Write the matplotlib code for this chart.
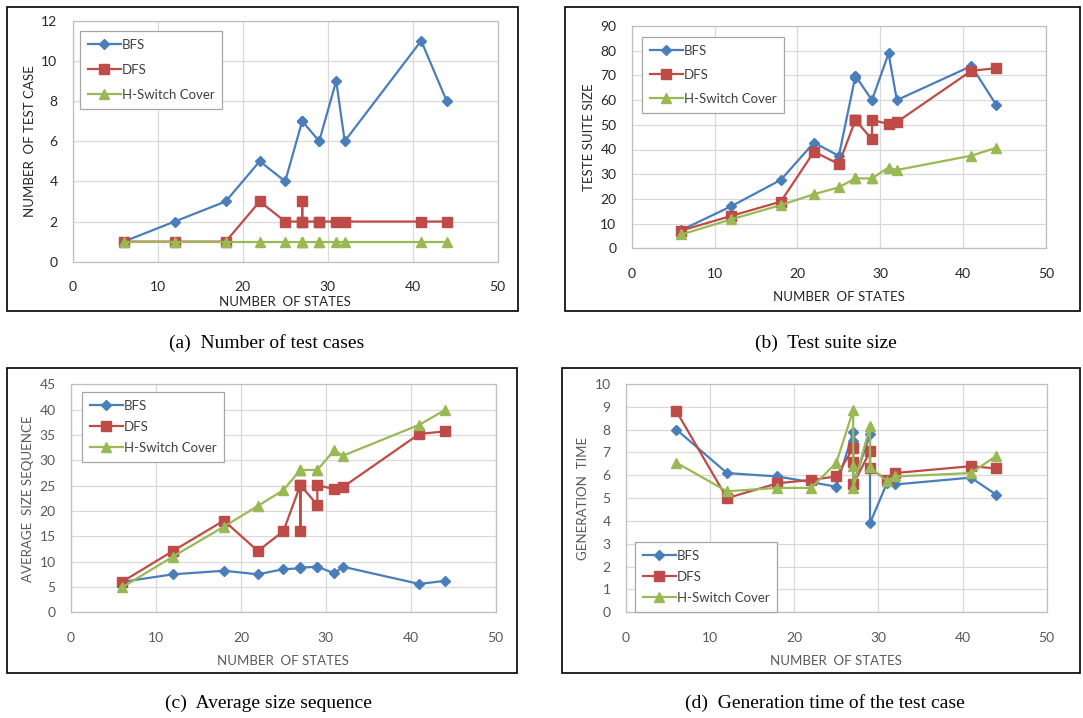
import numpy as np
import matplotlib
matplotlib.use("Agg")
import matplotlib.pyplot as plt
from matplotlib.patches import Rectangle

plt.rcParams['font.family'] = ['Lato', 'DejaVu Sans']

# number of states (same machines used in every panel)
states = [6, 12, 18, 22, 25, 27, 27, 27, 29, 29, 31, 32, 41, 44]

# (a) number of test cases
bfs_cases = [1, 2, 3, 5, 4, 7, 7, 7, 6, 6, 9, 6, 11, 8]
dfs_cases = [1, 1, 1, 3, 2, 2, 3, 2, 2, 2, 2, 2, 2, 2]
hsc_cases = [1, 1, 1, 1, 1, 1, 1, 1, 1, 1, 1, 1, 1, 1]

# (b) test suite size
bfs_size = [7.4, 17, 27.7, 42.8, 37.4, 69.8, 68.8, 69.8, 60, 60, 78.9, 60, 73.8, 58]
dfs_size = [7.2, 13.1, 18.9, 39.1, 34.1, 51.9, 51.9, 51.9, 44.1, 52, 50.3, 51.1, 71.9, 72.9]
hsc_size = [5.6, 11.7, 17.5, 21.9, 24.7, 28.3, 28.3, 28.3, 28.3, 28.3, 32.7, 31.7, 37.5, 40.7]

# (c) average size sequence
bfs_avg = [6.0, 7.5, 8.2, 7.5, 8.5, 8.7, 9.0, 8.8, 9.0, 9.0, 7.7, 9.0, 5.6, 6.2]
dfs_avg = [6.0, 12.1, 18.1, 12.1, 16.0, 25.1, 16.0, 25.1, 21.2, 25.1, 24.3, 24.7, 35.2, 35.7]
hsc_avg = [4.9, 11.0, 16.9, 21.0, 24.1, 28.1, 28.1, 28.1, 28.1, 28.1, 32.0, 30.9, 37.0, 39.9]

# (d) generation time
bfs_time = [8.0, 6.1, 5.95, 5.7, 5.5, 7.9, 7.5, 5.6, 7.8, 3.9, 5.65, 5.6, 5.9, 5.15]
dfs_time = [8.8, 5.0, 5.65, 5.8, 5.95, 7.2, 6.6, 5.6, 7.05, 6.3, 5.8, 6.1, 6.4, 6.3]
hsc_time = [6.55, 5.3, 5.45, 5.45, 6.55, 8.85, 6.4, 5.45, 8.15, 6.35, 5.75, 5.95, 6.1, 6.85]

labels = ['BFS', 'DFS', 'H-Switch Cover']
BLUE, RED, GREEN = '#4A7EBB', '#BE4B48', '#98B954'

W, H = 1083, 718
fig = plt.figure(figsize=(W / 100, H / 100), dpi=100)


def fr(x0, y0, x1, y1):
    '''pixel box (top-left origin) to figure fraction rect'''
    return [x0 / W, 1 - y1 / H, (x1 - x0) / W, (y1 - y0) / H]


def panel(rect, series, ymax, ystep, ylabel, leg_anchor, leg_space, tick_col, xlabelpad):
    ax = fig.add_axes(rect)
    ys = series
    ax.plot(states, ys[0], color=BLUE, marker='D', ms=5.5, lw=1.6, label=labels[0])
    ax.plot(states, ys[1], color=RED, marker='s', ms=6.5, lw=1.6, label=labels[1])
    ax.plot(states, ys[2], color=GREEN, marker='^', ms=7, lw=1.6, label=labels[2])
    ax.set_xlim(0, 50)
    ax.set_ylim(0, ymax)
    ax.set_xticks(np.arange(0, 51, 10))
    ax.set_yticks(np.arange(0, ymax + 0.1, ystep))
    ax.grid(True, color='#D9D9D9', lw=0.9)
    ax.set_axisbelow(True)
    for s in ax.spines.values():
        s.set_color('#BFBFBF')
        s.set_linewidth(0.9)
    ax.tick_params(length=0, labelsize=10, colors=tick_col)
    ax.tick_params(axis='x', pad=14)
    ax.tick_params(axis='y', pad=11)
    ax.set_xlabel('NUMBER  OF STATES', fontsize=9.5, color=tick_col, labelpad=xlabelpad)
    ax.set_ylabel(ylabel, fontsize=9.5, color=tick_col, labelpad=4)
    leg = ax.legend(loc='upper left', bbox_to_anchor=(leg_anchor[0] / W, 1 - leg_anchor[1] / H),
                    bbox_transform=fig.transFigure, fontsize=9.5, fancybox=False,
                    framealpha=1, edgecolor='#A6A6A6', handlelength=2.5, handletextpad=0.05,
                    labelspacing=leg_space, borderpad=0.6, borderaxespad=0)
    leg.get_frame().set_linewidth(0.9)
    for t in leg.get_texts():
        t.set_color('#404040')
    return ax


panel(fr(72.7, 20.7, 497.7, 261.7), [bfs_cases, dfs_cases, hsc_cases], 12, 2,
      'NUMBER  OF TEST CASE', (80, 31), 0.98, '#262626', 2)
panel(fr(631.7, 26, 1046, 248.3), [bfs_size, dfs_size, hsc_size], 90, 10,
      'TESTE SUITE SIZE', (642, 37), 0.9, '#262626', 8)
panel(fr(71, 384.3, 495.7, 612.3), [bfs_avg, dfs_avg, hsc_avg], 45, 5,
      'AVERAGE  SIZE SEQUENCE', (82, 392), 0.68, '#595959', 8)
panel(fr(626, 384, 1046.7, 612.3), [bfs_time, dfs_time, hsc_time], 10, 1,
      'GENERATION  TIME', (635, 542), 0.68, '#595959', 8)

# outer frames of the four sub-figures
for x0, y0, x1, y1 in [(7, 7, 518, 311), (565, 7, 1080, 311), (7, 368, 517, 673), (562, 368, 1080, 673)]:
    fig.add_artist(Rectangle((x0 / W, 1 - y1 / H), (x1 - x0) / W, (y1 - y0) / H,
                             transform=fig.transFigure, fill=False, ec='black', lw=1.2))

# captions
cap = dict(fontsize=14, family=['Liberation Serif', 'DejaVu Serif'], ha='center', va='center')
fig.text(267 / W, 1 - 343 / H, '(a)  Number of test cases', **cap)
fig.text(826 / W, 1 - 343 / H, '(b)  Test suite size', **cap)
fig.text(268 / W, 1 - 703 / H, '(c)  Average size sequence', **cap)
fig.text(825 / W, 1 - 703 / H, '(d)  Generation time of the test case', **cap)

fig.savefig('out.png', dpi=100)
